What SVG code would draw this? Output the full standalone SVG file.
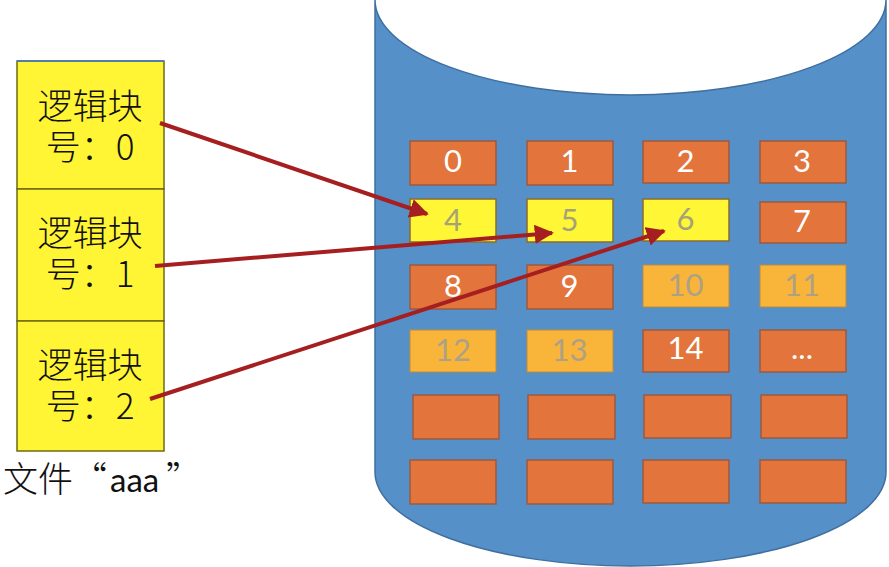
<svg xmlns="http://www.w3.org/2000/svg" width="889" height="567" viewBox="0 0 889 567">
<defs>
<style>
.o{fill:#e2743c;stroke:#9a5a42;stroke-width:1.5}
.y{fill:#fff735;stroke:#8a6a30;stroke-width:1.5}
.a{fill:#f9b43a;stroke:#c08a3a;stroke-width:1}
.s{fill:#fff535;stroke:#6f6a10;stroke-width:1.5}
text{font-family:"Lato","Liberation Sans","Noto Sans CJK SC",sans-serif;text-anchor:middle}
.n{font-size:31px;fill:#fff}
.g{font-size:31px;fill:#a5a27a}
.h{font-size:31px;fill:#aca186}
.c{font-family:"Noto Sans CJK SC","Liberation Sans",sans-serif;font-size:35px;font-weight:300;fill:#111}
.t{text-anchor:start}
.la{font-family:"Lato","Liberation Sans",sans-serif;font-size:33px;font-weight:400}
.l{fill:none;stroke:#a61f20;stroke-width:4}
</style>
<marker id="ah" viewBox="0 0 10 10" refX="9" refY="5" markerWidth="4.8" markerHeight="4.8" orient="auto" markerUnits="strokeWidth"><path d="M0 0L10 5L0 10z" fill="#a61f20"/></marker>
</defs>
<rect width="889" height="567" fill="#fff"/>
<g id="cylinder"><path d="M375 0A255.500 95 0 0 0 886 0V472A255.500 94 0 0 1 375 472Z" fill="#5590c9" stroke="#3f6f9f" stroke-width="1.5"/></g>
<g id="file">
<rect id="file-0" class="s" x="17" y="61" width="147" height="128"/>
<rect id="file-1" class="s" x="17" y="189" width="147" height="132"/>
<rect id="file-2" class="s" x="17" y="321" width="147" height="130"/>
<path d="M17 61H164" stroke="#4f7fa8" stroke-width="2" fill="none"/>
<text class="c"><tspan x="90" y="119">逻辑块</tspan><tspan x="90" y="160">号：0</tspan></text>
<text class="c"><tspan x="90" y="246">逻辑块</tspan><tspan x="90" y="287">号：1</tspan></text>
<text class="c"><tspan x="90" y="378">逻辑块</tspan><tspan x="90" y="419">号：2</tspan></text>
<text class="c t" y="492"><tspan x="3">文件</tspan><tspan x="72">“</tspan><tspan class="la" x="110">aaa</tspan><tspan x="166">”</tspan></text>
</g>
<g id="b0"><rect class="o" x="410" y="141" width="86" height="44"/><text class="n" x="453" y="172">0</text></g>
<g id="b1"><rect class="o" x="527" y="141" width="86" height="44"/><text class="n" x="569.500" y="172">1</text></g>
<g id="b2"><rect class="o" x="643" y="141" width="86" height="42"/><text class="n" x="685.500" y="172">2</text></g>
<g id="b3"><rect class="o" x="760" y="141" width="86" height="42"/><text class="n" x="802" y="172">3</text></g>
<g id="b4"><rect class="y" x="410" y="199" width="86" height="43"/><text class="g" x="453" y="231">4</text></g>
<g id="b5"><rect class="y" x="527" y="199" width="86" height="43"/><text class="g" x="569.500" y="231">5</text></g>
<g id="b6"><rect class="y" x="643" y="199" width="86" height="42"/><text class="g" x="685.500" y="230">6</text></g>
<g id="b7"><rect class="o" x="760" y="202" width="86" height="41"/><text class="n" x="802" y="232">7</text></g>
<g id="b8"><rect class="o" x="410" y="265" width="86" height="44"/><text class="n" x="453" y="297">8</text></g>
<g id="b9"><rect class="o" x="527" y="265" width="86" height="44"/><text class="n" x="569.500" y="297">9</text></g>
<g id="b10"><rect class="a" x="643" y="265" width="86" height="42"/><text class="h" x="685.500" y="296">10</text></g>
<g id="b11"><rect class="a" x="760" y="265" width="86" height="42"/><text class="h" x="802" y="296">11</text></g>
<g id="b12"><rect class="a" x="410" y="330" width="86" height="42"/><text class="h" x="453" y="361">12</text></g>
<g id="b13"><rect class="a" x="527" y="330" width="86" height="42"/><text class="h" x="569.500" y="361">13</text></g>
<g id="b14"><rect class="o" x="643" y="330" width="86" height="42"/><text class="n" x="685.500" y="359">14</text></g>
<g id="b15"><rect class="o" x="760" y="330" width="86" height="42"/><text class="n" x="802" y="359">...</text></g>
<g id="b16"><rect class="o" x="413" y="395" width="86" height="44"/></g>
<g id="b17"><rect class="o" x="528" y="395" width="87" height="44"/></g>
<g id="b18"><rect class="o" x="644" y="395" width="87" height="43"/></g>
<g id="b19"><rect class="o" x="761" y="395" width="86" height="43"/></g>
<g id="b20"><rect class="o" x="410" y="460" width="86" height="44"/></g>
<g id="b21"><rect class="o" x="527" y="460" width="86" height="44"/></g>
<g id="b22"><rect class="o" x="643" y="460" width="86" height="43"/></g>
<g id="b23"><rect class="o" x="760" y="460" width="86" height="43"/></g>
<g id="connectors">
<line class="l" x1="160" y1="123" x2="427" y2="214" marker-end="url(#ah)"/>
<line class="l" x1="155" y1="266" x2="552" y2="233" marker-end="url(#ah)"/>
<line class="l" x1="150" y1="399" x2="664" y2="231" marker-end="url(#ah)"/>
</g>
</svg>
